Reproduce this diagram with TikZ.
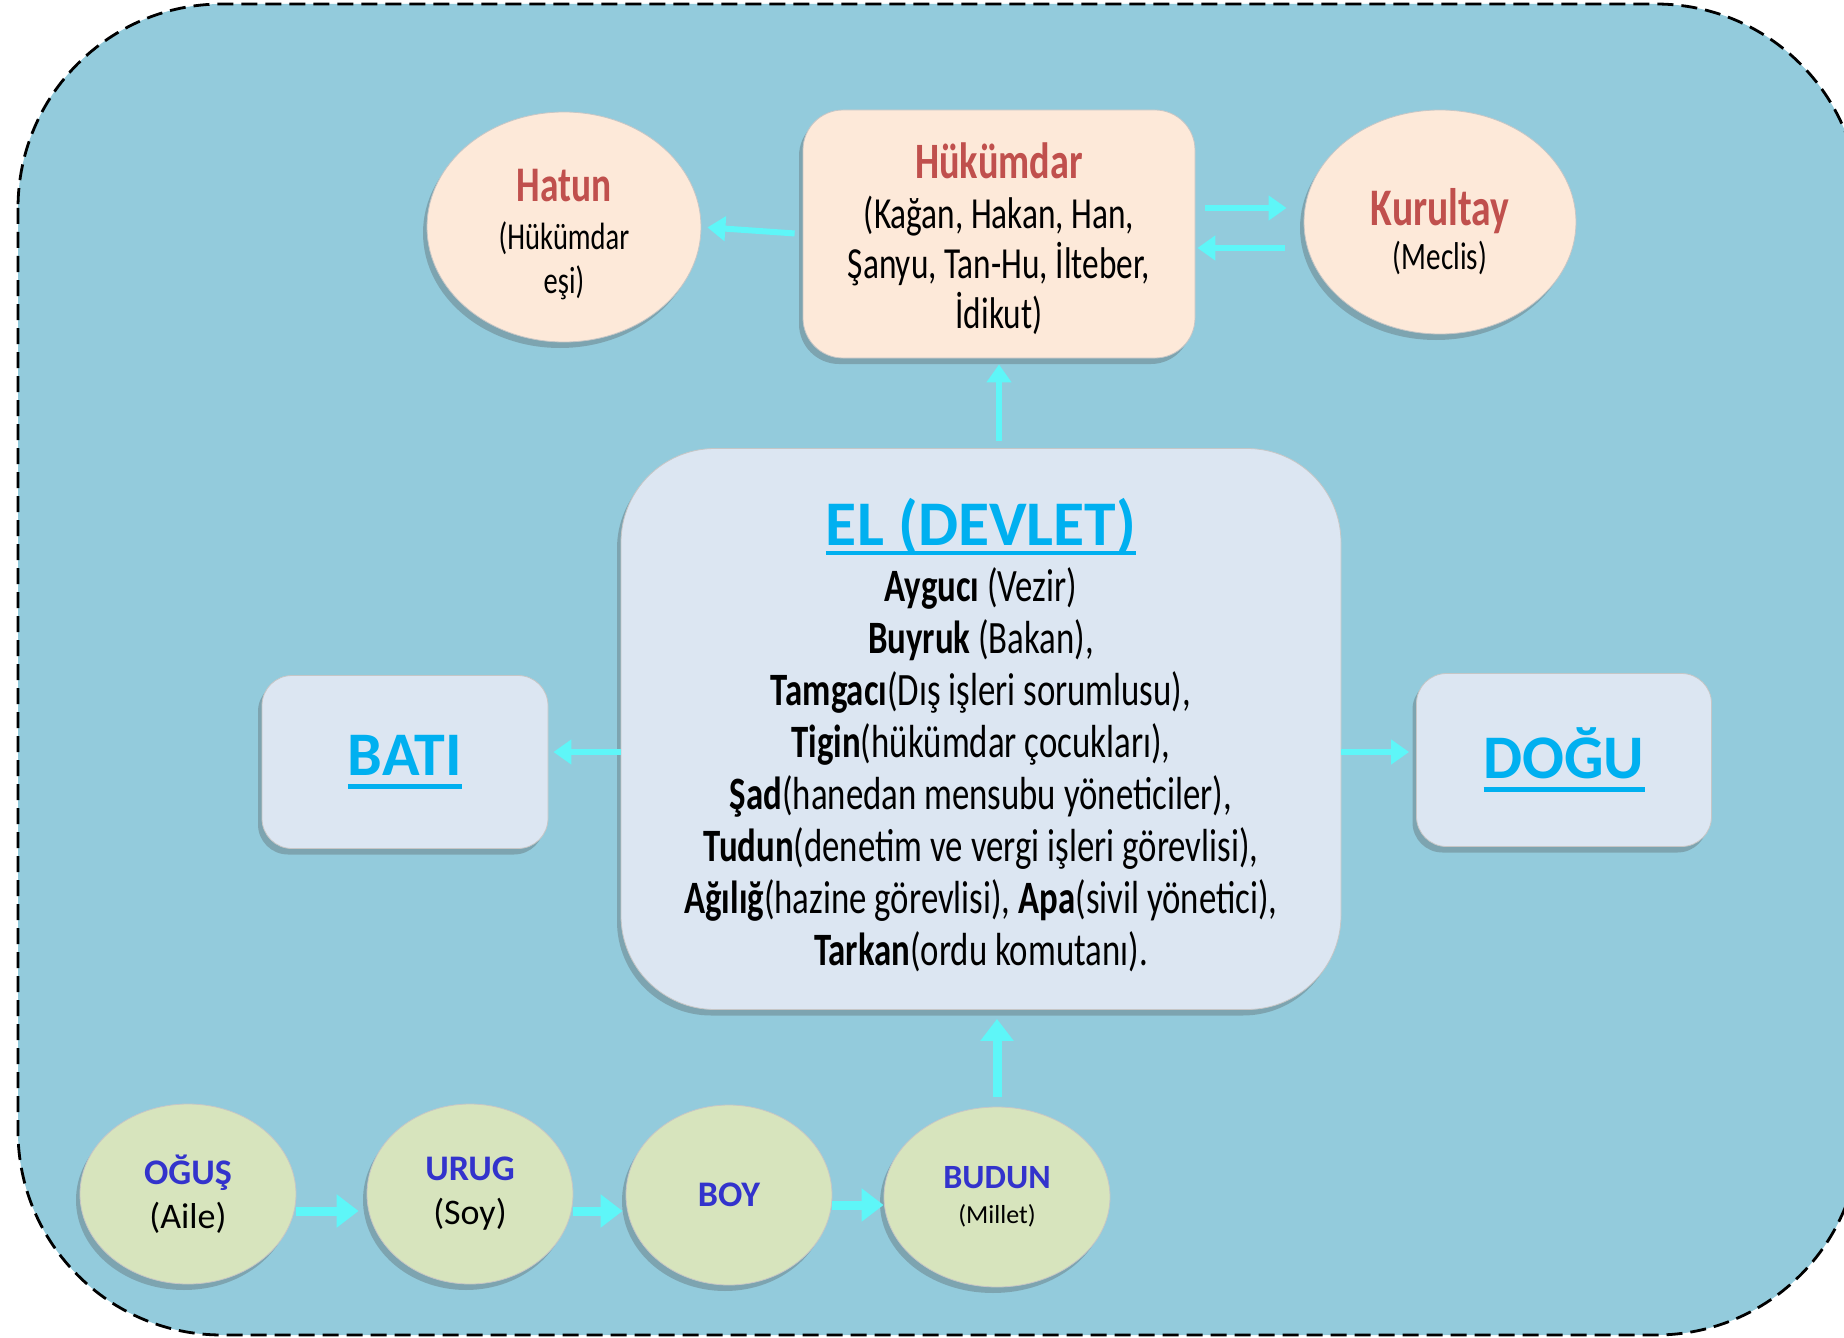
\documentclass[tikz,border=0pt]{standalone}
\usepackage{fontspec}
\setmainfont{Carlito}
\newfontfamily\agency[FakeStretch=0.75]{Carlito}
\newcommand{\ulbar}[2][5pt]{\setbox0\hbox{#2}\rlap{\raisebox{-#1}{\rule{\wd0}{2.3pt}}}\box0}
\usetikzlibrary{shapes.geometric,shadows,arrows.meta}
\definecolor{bgblue}{HTML}{93CBDC}
\definecolor{peach}{HTML}{FDE9D9}
\definecolor{titlered}{HTML}{C0504D}
\definecolor{paleblue}{HTML}{DCE6F2}
\definecolor{elblue}{HTML}{00B0F0}
\definecolor{olive}{HTML}{D7E4BD}
\definecolor{ringblue}{HTML}{3333CC}
\definecolor{arrowcyan}{HTML}{5EF6F8}

\begin{document}
\begin{tikzpicture}[x=0.5pt,y=-0.5pt,
    shade/.style={drop shadow={shadow xshift=-2pt,shadow yshift=-3pt,opacity=.3,fill=black!70}},
    peachbox/.style={shade,draw=gray!45,fill=peach,rounded corners=20pt,inner sep=0pt},
    peachoval/.style={shade,ellipse,draw=gray!45,fill=peach,inner sep=0pt},
    ovaltext/.style={align=center,inner sep=0pt,font=\agency\fontsize{19}{22}\selectfont},
    sidebox/.style={shade,draw=gray!45,fill=paleblue,rounded corners=15pt,inner sep=0pt,
        minimum height=86.5pt,font=\bfseries\fontsize{31}{31}\selectfont,text=elblue},
    ringoval/.style={shade,ellipse,draw=gray!45,fill=olive,align=center,inner sep=0pt,
        minimum height=90pt,font=\fontsize{18}{22}\selectfont},
    arr/.style={-{Triangle[length=9pt,width=12pt]},line width=3pt,draw=arrowcyan},
    bigarr/.style={arr,-{Triangle[length=11pt,width=16pt]},line width=4.5pt}]
\useasboundingbox (0,0) rectangle (1844,1338);
\clip (0,0) rectangle (1844,1338);
\draw[fill=bgblue,line width=1.4pt,dash pattern=on 8pt off 4pt,rounded corners=102pt]
    (18,4) rectangle (1860,1335);

% top row
\node[peachbox,minimum width=196pt,minimum height=124pt] (huk) at (999,234) {};
\node[ovaltext,font=\agency\fontsize{22.2}{25}\selectfont] (huktext) at ([yshift=-2.5pt]huk.center)
    {{\bfseries\color{titlered}\fontsize{25.5}{30}\selectfont Hükümdar}\\(Kağan, Hakan, Han,\\Şanyu, Tan-Hu, İlteber,\\İdikut)};
\node[peachoval,minimum width=137pt,minimum height=115pt] (hatun) at (564,227) {};
\node[ovaltext] (hatuntext) at ([yshift=-4pt]hatun.center)
    {{\bfseries\color{titlered}\fontsize{24.9}{28}\selectfont Hatun}\\[2pt](Hükümdar\\eşi)};
\node[peachoval,minimum width=136pt,minimum height=112pt] (kur) at (1440,222) {};
\node[ovaltext,font=\agency\fontsize{19.4}{22}\selectfont] (kurtext) at ([yshift=-5pt]kur.center)
    {{\bfseries\color{titlered}\fontsize{26.4}{30}\selectfont Kurultay}\\(Meclis)};

% el
\node[shade,draw=gray!45,fill=paleblue,rounded corners=47pt,minimum width=360pt,minimum height=280.5pt] (el) at (981,729) {};
\node[align=center,inner sep=0pt,font=\agency\fontsize{23.2}{26}\selectfont] (eltext) at ([yshift=-3pt]el.center)
    {{\normalfont\bfseries\color{elblue}\fontsize{31.8}{36}\selectfont\ulbar{EL (DEVLET)}}\\[2pt]
    \textbf{Ayguc\i} (Vezir)\\
    \textbf{Buyruk} (Bakan),\\
    \textbf{Tamgac\i}(D\i ş işleri sorumlusu),\\
    \textbf{Tigin}(hükümdar çocuklar\i),\\
    \textbf{Şad}(hanedan mensubu yöneticiler),\\
    \textbf{Tudun}(denetim ve vergi işleri görevlisi),\\
    \textbf{Ağ\i l\i ğ}(hazine görevlisi), \textbf{Apa}(sivil yönetici),\\
    \textbf{Tarkan}(ordu komutan\i).};

\node[sidebox,minimum width=143pt] (bati) at (405,762) {\ulbar[6.5pt]{BATI}};
\node[sidebox,minimum width=147.5pt] (dogu) at (1564,760) {\ulbar[6.5pt]{DOĞU}};

% bottom row
\node[ringoval,minimum width=108pt] (ogus) at (188,1194)
    {{\bfseries\color{ringblue}OĞUŞ}\\(Aile)};
\node[ringoval,minimum width=103pt] (urug) at (470,1194)
    {{\bfseries\color{ringblue}URUG}\\(Soy)};
\node[ringoval,minimum width=103pt] (boy) at (729,1195)
    {{\bfseries\color{ringblue}BOY}};
\node[ringoval,minimum width=113pt] (budun) at (997,1197)
    {{\bfseries\color{ringblue}\fontsize{17}{20}\selectfont BUDUN}\\[-4.5pt]{\fontsize{13}{16}\selectfont(Millet)}};

% arrows
\draw[arr,shorten <=4pt,shorten >=3pt] (huk.west) -- (hatun.east);
\coordinate (kr) at ([yshift=13pt]huk.east);
\coordinate (kl) at ([yshift=-7pt]huk.east);
\draw[arr,shorten <=5pt,shorten >=8.5pt] (kr) -- (kr -| kur.west);
\draw[arr,shorten <=9.5pt,shorten >=1pt] (kl -| kur.west) -- (kl);
\draw[arr,shorten <=3.5pt,shorten >=3pt] (huk.south |- el.north) -- (huk.south);
\coordinate (bw) at ([yshift=5pt]bati.east);
\coordinate (de) at ([yshift=4pt]dogu.west);
\draw[arr,shorten >=2.5pt] (el.west |- bw) -- (bw);
\draw[arr,shorten >=3.5pt] (el.east |- de) -- (de);
\coordinate (o1) at ([yshift=-8.5pt]ogus.east);
\coordinate (u1) at ([yshift=-8.5pt]urug.east);
\coordinate (b1) at ([yshift=-5pt]boy.east);
\draw[bigarr,shorten >=4pt] (o1) -- (o1 -| urug.west);
\draw[bigarr,shorten >=1.5pt] (u1) -- (u1 -| boy.west);
\draw[bigarr] (b1) -- (b1 -| budun.west);
\draw[bigarr,shorten <=5pt,shorten >=4.5pt] (budun.north) -- (budun.north |- el.south);
\end{tikzpicture}
\end{document}
